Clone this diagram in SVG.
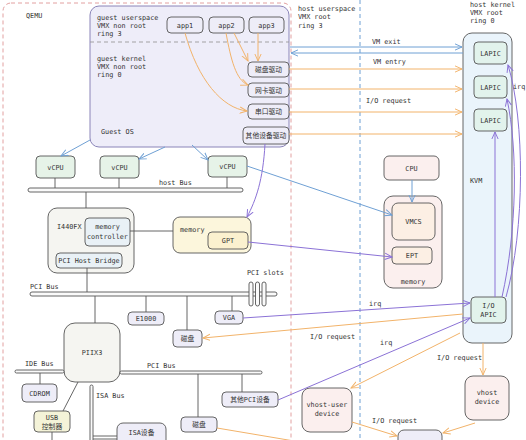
<svg xmlns="http://www.w3.org/2000/svg" width="526" height="440" viewBox="0 0 526 440">
<defs>
<style>
.t{font-family:"DejaVu Sans Mono","Noto Sans CJK SC",monospace;font-size:6.8px;fill:#333}
.c{text-anchor:middle}
.bx{stroke:#555;stroke-width:0.9}
.ln{stroke:#555;stroke-width:0.9;fill:none}
.bar{fill:#fafafa;stroke:#555;stroke-width:0.9}
.or{stroke:#f2b36a;stroke-width:1;fill:none}
.bl{stroke:#6fa0d4;stroke-width:1;fill:none}
.pu{stroke:#8b72d6;stroke-width:1;fill:none}
.lav{fill:#eeedf8}
.grn{fill:#e6f3e8}
.pnk{fill:#fbefee}
.yel{fill:#fcf6dc}
.gry{fill:#f5f5f1}
</style>
<marker id="ao" viewBox="0 0 10 10" refX="9" refY="5" markerWidth="8" markerHeight="8" orient="auto" markerUnits="userSpaceOnUse"><path d="M0,1 L9,5 L0,9" fill="none" stroke="#f2b36a" stroke-width="1.2"/></marker>
<marker id="ab" viewBox="0 0 10 10" refX="9" refY="5" markerWidth="8" markerHeight="8" orient="auto" markerUnits="userSpaceOnUse"><path d="M0,1 L9,5 L0,9" fill="none" stroke="#6fa0d4" stroke-width="1.2"/></marker>
<marker id="ap" viewBox="0 0 10 10" refX="9" refY="5" markerWidth="8" markerHeight="8" orient="auto" markerUnits="userSpaceOnUse"><path d="M0,1 L9,5 L0,9" fill="none" stroke="#8b72d6" stroke-width="1.2"/></marker>
</defs>
<rect width="526" height="440" fill="#ffffff"/>

<g id="qemu">
<rect x="3" y="3" width="288" height="460" rx="8" fill="none" stroke="#e2a0a0" stroke-width="1" stroke-dasharray="4 3"/>
<text class="t" x="26" y="18">QEMU</text>
</g>
<line x1="360" y1="0" x2="360" y2="440" stroke="#6fa0d4" stroke-width="1" stroke-dasharray="4 3"/>
<g id="host-user-label">
<text class="t" x="298" y="10.5">host userspace</text>
<text class="t" x="298" y="19">VMX root</text>
<text class="t" x="298" y="27.5">ring 3</text>
</g>
<g id="host-kernel-label">
<text class="t" x="470" y="6.5">host kernel</text>
<text class="t" x="470" y="14.5">VMX root</text>
<text class="t" x="470" y="23">ring 0</text>
</g>

<g id="guest-os">
<rect x="90" y="6" width="199" height="141" rx="9" fill="#eeedf9" stroke="#8a84b8" stroke-width="1"/>
<line x1="90" y1="42" x2="289" y2="42" stroke="#999" stroke-width="0.9" stroke-dasharray="4 3"/>
<text class="t" x="97" y="19.5">guest userspace</text>
<text class="t" x="97" y="27.5">VMX non root</text>
<text class="t" x="97" y="35.5">ring 3</text>
<text class="t" x="97" y="60.5">guest kernel</text>
<text class="t" x="97" y="68.5">VMX non root</text>
<text class="t" x="97" y="77">ring 0</text>
<text class="t" x="101" y="133.5">Guest OS</text>
</g>
<g id="app1"><rect class="bx lav" x="167" y="17" width="36" height="16" rx="4"/><text class="t c" x="185" y="27.5">app1</text></g>
<g id="app2"><rect class="bx lav" x="209" y="17" width="35" height="16" rx="4"/><text class="t c" x="226.5" y="27.5">app2</text></g>
<g id="app3"><rect class="bx lav" x="249" y="17" width="35" height="16" rx="4"/><text class="t c" x="266.5" y="27.5">app3</text></g>
<g id="drv-disk"><rect class="bx lav" x="248" y="62" width="41" height="15" rx="4"/><text class="t c" x="268.5" y="72">磁盘驱动</text></g>
<g id="drv-nic"><rect class="bx lav" x="248" y="83" width="41" height="14" rx="4"/><text class="t c" x="268.5" y="92.5">网卡驱动</text></g>
<g id="drv-serial"><rect class="bx lav" x="248" y="104" width="41" height="15" rx="4"/><text class="t c" x="268.5" y="114">串口驱动</text></g>
<g id="drv-other"><rect class="bx lav" x="243" y="127" width="46" height="17" rx="4"/><text class="t c" x="266" y="138">其他设备驱动</text></g>

<g id="kvm">
<rect x="463" y="33" width="49" height="310" rx="9" fill="#eaf4fb" stroke="#555" stroke-width="0.9"/>
<text class="t" x="470" y="182.5">KVM</text>
</g>
<g id="lapic1"><rect class="bx" fill="#e2f3ec" x="474" y="42" width="33" height="22" rx="4"/><text class="t c" x="490.5" y="55.5">LAPIC</text></g>
<g id="lapic2"><rect class="bx" fill="#e2f3ec" x="474" y="76" width="33" height="22" rx="4"/><text class="t c" x="490.5" y="89.5">LAPIC</text></g>
<g id="lapic3"><rect class="bx" fill="#e2f3ec" x="474" y="109" width="33" height="22" rx="4"/><text class="t c" x="490.5" y="122.5">LAPIC</text></g>
<g id="ioapic"><rect class="bx" fill="#e2f3ec" x="471" y="297" width="35" height="26" rx="4"/><text class="t c" x="488.5" y="308">I/O</text><text class="t c" x="488.5" y="316.5">APIC</text></g>

<g id="vcpu1"><rect class="bx grn" x="36" y="156" width="39" height="22" rx="4"/><text class="t c" x="55.5" y="169.5">vCPU</text></g>
<g id="vcpu2"><rect class="bx grn" x="100" y="156" width="39" height="22" rx="4"/><text class="t c" x="119.5" y="169.5">vCPU</text></g>
<g id="vcpu3"><rect class="bx grn" x="208" y="156" width="39" height="21" rx="4"/><text class="t c" x="227.5" y="169">vCPU</text></g>
<g id="host-bus"><rect class="bar" x="28" y="188" width="215" height="4" rx="2"/><text class="t" x="159" y="184.5">host Bus</text></g>

<g id="i440fx">
<rect class="bx gry" x="48" y="208" width="86" height="65" rx="9"/>
<text class="t" x="57" y="228.5">I440FX</text>
</g>
<g id="mem-ctrl"><rect class="bx" fill="#e9f1f6" x="85" y="218" width="45" height="28" rx="4"/><text class="t c" x="107.5" y="229">memory</text><text class="t c" x="107.5" y="238.5">controller</text></g>
<g id="pci-host-bridge"><rect class="bx" fill="#e9f1f6" x="56" y="253" width="66" height="15" rx="4"/><text class="t c" x="89" y="263">PCI Host Bridge</text></g>

<g id="memory-guest">
<rect class="bx yel" x="173" y="217" width="78" height="36" rx="7"/>
<text class="t" x="180" y="231.5">memory</text>
</g>
<g id="gpt"><rect class="bx" fill="#fbf1cf" x="208" y="232" width="40" height="17" rx="4"/><text class="t c" x="228" y="243">GPT</text></g>

<g id="cpu"><rect class="bx pnk" x="384" y="156" width="55" height="24" rx="5"/><text class="t c" x="411.5" y="170.5">CPU</text></g>
<g id="memory-host">
<rect class="bx pnk" x="384" y="196" width="58" height="92" rx="9"/>
<text class="t c" x="413" y="283.5">memory</text>
</g>
<g id="vmcs"><rect class="bx" fill="#fcefe4" x="392" y="203" width="43" height="37" rx="6"/><text class="t c" x="413.5" y="224">VMCS</text></g>
<g id="ept"><rect class="bx" fill="#fcefe4" x="392" y="247" width="40" height="17" rx="4"/><text class="t c" x="412" y="258">EPT</text></g>

<g id="pci-bus"><rect class="bar" x="30" y="292" width="247" height="4" rx="2"/><text class="t" x="30" y="288.5">PCI Bus</text></g>
<g id="pci-slots">
<text class="t" x="247" y="274.5">PCI slots</text>
<rect class="bar" x="249" y="282" width="4" height="24" rx="2"/>
<rect class="bar" x="255.5" y="282" width="4" height="24" rx="2"/>
<rect class="bar" x="262" y="282" width="4" height="24" rx="2"/>
</g>
<g id="e1000"><rect class="bx lav" x="128" y="312" width="36" height="13" rx="4"/><text class="t c" x="146" y="321">E1000</text></g>
<g id="disk1"><rect class="bx lav" x="173" y="330" width="29" height="17" rx="4"/><text class="t c" x="187.5" y="341">磁盘</text></g>
<g id="vga"><rect class="bx lav" x="215" y="311" width="28" height="13" rx="4"/><text class="t c" x="229" y="320">VGA</text></g>

<g id="piix3"><rect class="bx gry" x="64" y="323" width="56" height="59" rx="11"/><text class="t c" x="92" y="355">PIIX3</text></g>
<g id="ide-bus"><rect class="bar" x="15" y="370" width="49" height="3" rx="1.5"/><text class="t" x="25" y="365.5">IDE Bus</text></g>
<g id="cdrom"><rect class="bx lav" x="22" y="384" width="35" height="18" rx="4"/><text class="t c" x="39.5" y="395.5">CDROM</text></g>
<g id="pci-bus2"><rect class="bar" x="120" y="371" width="142" height="3" rx="1.5"/><text class="t" x="147" y="367.5">PCI Bus</text></g>
<g id="other-pci"><rect class="bx lav" x="222" y="392" width="56" height="15" rx="4"/><text class="t c" x="250" y="402">其他PCI设备</text></g>
<g id="disk2"><rect class="bx lav" x="181" y="417" width="36" height="15" rx="4"/><text class="t c" x="199" y="427">磁盘</text></g>
<g id="isa-bus"><rect class="bar" x="90" y="385" width="3" height="60" rx="1.5"/><text class="t" x="96" y="397.5">ISA Bus</text></g>
<g id="usb"><rect class="bx" fill="#f4f3d8" x="34" y="411" width="36" height="21" rx="4"/><text class="t c" x="52" y="420">USB</text><text class="t c" x="52" y="429">控制器</text></g>
<g id="isa-dev"><rect class="bx lav" x="117" y="423" width="49" height="30" rx="6"/><text class="t c" x="141.5" y="435">ISA设备</text></g>

<g id="vhost-user"><rect class="bx pnk" x="302" y="388" width="50" height="44" rx="8"/><text class="t c" x="327" y="407">vhost-user</text><text class="t c" x="327" y="415.5">device</text></g>
<g id="vhost"><rect class="bx pnk" x="465" y="376" width="44" height="44" rx="8"/><text class="t c" x="487" y="395">vhost</text><text class="t c" x="487" y="403.5">device</text></g>
<g id="bottom-box"><rect class="bx lav" x="398" y="430" width="44" height="24" rx="6"/></g>

<g id="connectors">
<path class="or" d="M258,33 L258,61" marker-end="url(#ao)"/>
<path class="or" d="M234,33 Q241,47 248,61" marker-end="url(#ao)"/>
<path class="or" d="M226,33 C231,60 236,80 248,85" marker-end="url(#ao)"/>
<path class="or" d="M185,33 C198,80 222,108 247,111" marker-end="url(#ao)"/>
<path class="bl" d="M290,47 L462,47" marker-end="url(#ab)"/>
<path class="bl" d="M463,53 L291,53" marker-end="url(#ab)"/>
<text class="t" x="372" y="44">VM exit</text>
<text class="t" x="373" y="63.5">VM entry</text>
<path class="or" d="M289,69 L462,69" marker-end="url(#ao)"/>
<path class="or" d="M289,89 L462,89" marker-end="url(#ao)"/>
<path class="or" d="M289,112 L462,112" marker-end="url(#ao)"/>
<path class="or" d="M289,134 L462,134" marker-end="url(#ao)"/>
<text class="t" x="366" y="102.5">I/O request</text>
<path class="bl" d="M90,140 L61,156" marker-end="url(#ab)"/>
<path class="bl" d="M165,147 L139,159" marker-end="url(#ab)"/>
<path class="bl" d="M192,145 L208,160" marker-end="url(#ab)"/>
<path class="bl" d="M247,166 L392,215" marker-end="url(#ab)"/>
<path class="bl" d="M412,180 L412,202" marker-end="url(#ab)"/>
<path class="pu" d="M265,144 C263,180 256,200 247,217" marker-end="url(#ap)"/>
<path class="pu" d="M248,242 L392,257" marker-end="url(#ap)"/>
<path class="ln" d="M55,178 V188 M119,178 V188 M227,177 V188 M86,192 V208 M130,231 H173 M87,268 V292 M95,296 V323 M146,296 V312 M187,296 V330 M232,296 V311 M40,373 V384 M198,374 V417 M242,374 V392 M78,382 L63,411 M52,432 V440 M93,436 H117 M93,439 H117"/>
<path class="pu" d="M495,297 L495,132" marker-end="url(#ap)"/>
<path class="pu" d="M502,297 C517,230 518,150 507,99" marker-end="url(#ap)"/>
<path class="pu" d="M506,297 C525,230 525,120 508,65" marker-end="url(#ap)"/>
<text class="t" x="513" y="88.5">irq</text>
<path class="pu" d="M243,318 L470,303" marker-end="url(#ap)"/>
<text class="t" x="369" y="305.5">irq</text>
<path class="or" d="M463,314 L203,338" marker-end="url(#ao)"/>
<text class="t" x="310" y="338.5">I/O request</text>
<path class="pu" d="M278,400 L470,318" marker-end="url(#ap)"/>
<text class="t" x="380" y="344.5">irq</text>
<path class="or" d="M460,333 L351,388" marker-end="url(#ao)"/>
<path class="or" d="M483,343 L483,375" marker-end="url(#ao)"/>
<text class="t" x="437" y="359.5">I/O request</text>
<path class="or" d="M475,423 L443,433" marker-end="url(#ao)"/>
<path class="or" d="M352,422 L397,436" marker-end="url(#ao)"/>
<text class="t" x="372" y="422.5">I/O request</text>
<path class="or" d="M217,428 L300,442"/>
</g>
</svg>
